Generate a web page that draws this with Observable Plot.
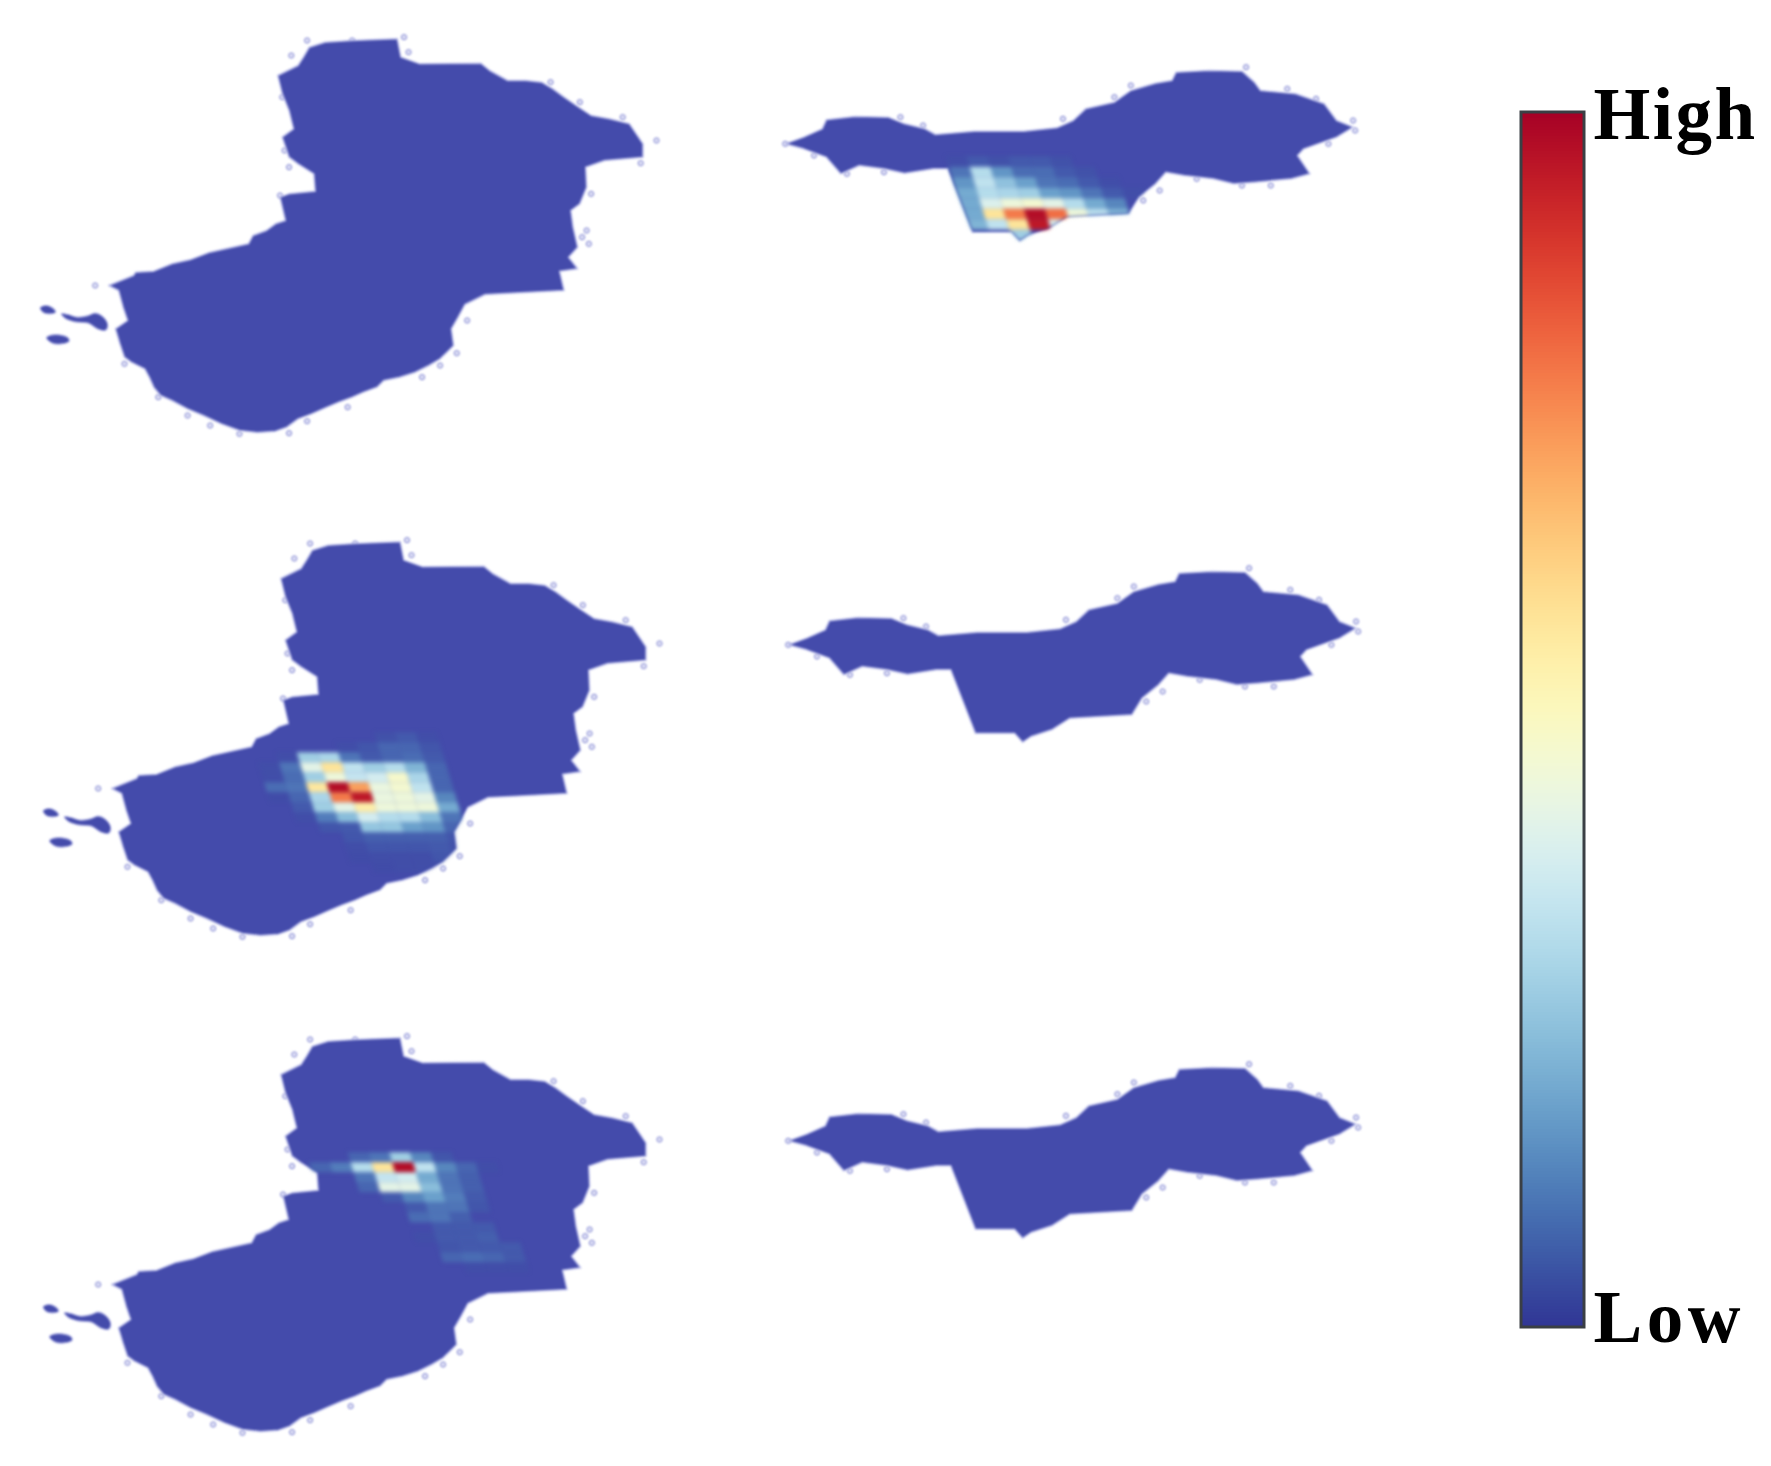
<!DOCTYPE html>
<html><head><meta charset="utf-8">
<script src="https://cdn.jsdelivr.net/npm/d3@7"></script>
<script src="https://cdn.jsdelivr.net/npm/@observablehq/plot@0.6"></script>
<style>html,body{margin:0;background:#fff}svg{display:block}</style>
</head><body><div id="chart"></div>
<script>
// Regional outlines
const regionWest = [[240,855],[295,825],[300,815],[340,812],[380,790],[420,778],[465,755],[510,742],[550,730],[560,705],[590,690],[610,670],[632,660],[620,590],[640,580],[698,572],[695,520],[660,490],[640,470],[625,410],[650,385],[640,330],[625,280],[615,225],[660,195],[672,170],[685,140],[720,125],[780,120],[880,115],[888,170],[930,190],[1065,188],[1085,210],[1125,240],[1165,240],[1200,245],[1225,265],[1250,290],[1280,318],[1310,345],[1350,355],[1395,370],[1410,400],[1425,430],[1425,470],[1340,480],[1298,500],[1300,560],[1285,610],[1265,630],[1270,680],[1280,740],[1260,770],[1280,805],[1240,812],[1250,870],[1075,882],[1030,912],[1015,950],[1000,985],[1005,1035],[990,1055],[975,1075],[950,1095],[920,1115],[885,1130],[850,1140],[835,1160],[805,1175],[780,1190],[750,1205],[720,1222],[690,1240],[660,1255],[635,1280],[610,1292],[570,1296],[530,1290],[490,1270],[450,1245],[415,1225],[380,1200],[355,1185],[340,1160],[330,1130],[320,1105],[290,1085],[275,1070],[265,1030],[255,985],[282,960],[272,920],[262,870]];
const islandsWest = [[[102,1012],[112,1004],[130,1003],[150,1012],[152,1022],[135,1030],[115,1028]],[[135,940],[150,942],[170,950],[195,945],[210,938],[228,950],[238,975],[232,990],[215,985],[195,968],[165,964],[145,955]],[[88,922],[100,915],[115,922],[122,935],[108,940],[95,936]]];
const specksWest = [[895,110],[1220,245],[1285,305],[1455,420],[1310,580],[1290,710],[1035,960],[1012,1058],[210,855],[275,1090],[415,1245],[465,1275],[640,1298],[530,1300],[680,120],[645,165],[625,290],[630,450],[640,500],[620,585],[905,155],[1380,350],[1420,488],[780,120],[1300,690],[1305,730],[350,1190],[770,1220],[680,1262],[935,1130],[975,1095]];
const regionEast = [[60,310],[105,290],[150,265],[160,238],[230,228],[310,230],[350,250],[400,265],[425,282],[520,272],[640,272],[720,262],[760,240],[790,205],[860,185],[900,150],[960,128],[1000,120],[1010,95],[1090,90],[1170,92],[1200,125],[1215,150],[1300,160],[1370,190],[1400,240],[1440,260],[1400,290],[1320,325],[1305,345],[1335,400],[1290,415],[1200,425],[1150,430],[1100,415],[1030,405],[985,395],[960,430],[920,470],[895,520],[745,530],[700,565],[650,585],[630,602],[610,575],[515,575],[455,385],[420,385],[350,398],[300,385],[240,375],[195,400],[160,350],[105,325]];
const specksEast = [[60,310],[130,345],[210,400],[300,395],[1440,240],[1445,270],[1380,310],[1280,145],[1350,175],[1170,435],[1240,435],[1060,415],[970,450],[930,480],[735,235],[860,170],[900,135],[1180,80],[340,230],[395,255]];
// Heat rows: first entry is the starting column, the rest are colour-bar positions (0 = Low, 1 = High)
const heatEastTop = [[1,.05,.08,.06,.08,.08,.06],[1,.12,.32,.16,.11,.11,.08,.06],[1,.16,.34,.25,.18,.12,.11,.08,.05],[1,.2,.32,.3,.28,.18,.16,.12,.08,.05],[1,.2,.4,.45,.47,.42,.32,.2,.14],[1,.2,.58,.78,.97,.8,.45,.33,.22],[1,.22,.34,.58,.95,.4],[3,.28]];
const heatWestMid = [[6,.06,.08,.05],[4,.05,.07,.1,.1,.07],[1,.05,.28,.3,.12,.08,.1,.11,.08],[0,.05,.12,.42,.58,.34,.28,.32,.22,.1],[0,.05,.11,.28,.45,.35,.38,.48,.3,.1],[0,.11,.12,.57,.97,.72,.44,.47,.34,.1],[0,.04,.1,.3,.78,.95,.44,.45,.42,.14],[1,.08,.28,.42,.55,.45,.45,.45,.2],[1,.05,.13,.24,.38,.32,.32,.24,.12],[2,.07,.08,.26,.26,.18,.16,.1],[3,.07,.09,.09,.09,.09,.07],[3,.05,.07,.07,.07,.08,.06],[3,.04,.05,.05,.05,.07,.05],[4,.04,.05,.05,.05]];
const heatWestLow = [[2,.1,.12,.28,.14,.07],[0,.1,.13,.32,.58,.97,.34,.14,.1,.05],[2,.12,.35,.38,.2,.12,.09],[2,.1,.42,.42,.24,.12,.09],[3,.08,.14,.18,.13,.08],[4,.08,.12,.12,.07],[4,.11,.12,.09],[5,.08,.08,.08],[4,.05,.08,.08,.09],[5,.07,.08,.08,.08],[5,.1,.11,.1,.08],[6,.05,.05,.05]];
const labels = ["High", "Low"];

const toWest = ([a, b]) => [a / 2.218, b / 3];
const toEast = ([a, b]) => [760 + a / 2.43, 40 + b / 3];
const west = regionWest.map(toWest), east = regionEast.map(toEast);
const isles = islandsWest.map(s => s.map(toWest));
const wSpecks = specksWest.map(toWest), eSpecks = specksEast.map(toEast);

const westOff = [[0,0],[3,503],[3,999]];
const eastOff = [[0,0],[3,501],[3,997]];

const shapes = [], extras = [], specks = [];
westOff.forEach(([dx,dy],p) => {
  west.forEach(([x,y]) => shapes.push({id:"w"+p,x:x+dx,y:y+dy}));
  isles.forEach((s,k) => s.forEach(([x,y]) => extras.push({id:`i${p}-${k}`,x:x+dx,y:y+dy})));
  wSpecks.forEach(([x,y]) => specks.push({x:x+dx,y:y+dy}));
});
eastOff.forEach(([dx,dy],p) => {
  east.forEach(([x,y]) => shapes.push({id:"e"+p,x:x+dx,y:y+dy}));
  eSpecks.forEach(([x,y]) => specks.push({x:x+dx,y:y+dy}));
});
const shapeIds = ["w0","w1","w2","e0","e1","e2"];

function cells(rows, x0, y0, w, h, s, tag) {
  const out = [];
  rows.forEach(([start, ...vals], r) => vals.forEach((v, i) => {
    const c = start + i, l = x0 + c * w + r * s, t = y0 + r * h, id = `${tag}-${r}-${c}`;
    [[l,t],[l+w,t],[l+w+s,t+h],[l+s,t+h]].forEach(([x,y]) => out.push({id,x,y,v}));
  }));
  return out;
}
const heats = [
  {clip:"e0", data:cells(heatEastTop, 924.2, 155.8, 20.83, 10.5, 3.17, "a")},
  {clip:"w1", data:cells(heatWestMid, 248.5, 731.7, 20.83, 10, 3, "b")},
  {clip:"w2", data:cells(heatWestLow, 305.3, 1151.7, 20.83, 10, 3, "c")}
];
const step = 1/405;
const ramp = d3.range(0, 1, step).map(v => ({v, y1: 1327 - v * 1215, y2: 1327 - (v + step) * 1215}));
const base = "#444bab";

const chart = Plot.plot({
  width: 1771, height: 1466, margin: 0,
  style: {background: "#fff"},
  x: {domain: [0,1771], range: [0,1771], axis: null},
  y: {domain: [0,1466], range: [0,1466], axis: null},
  color: {type: "linear", scheme: "RdYlBu", domain: [0,1], reverse: true},
  marks: [
    Plot.dot(specks, {x:"x", y:"y", r:2.6, fill:"#e4e5f7", stroke:"#7b80cf", strokeWidth:1}),
    Plot.line(extras, {x:"x", y:"y", z:"id", curve:"catmull-rom-closed", fill:base, stroke:"#a9ace2", strokeWidth:1.2}),
    Plot.line(shapes, {x:"x", y:"y", z:"id", curve:"linear-closed", fill:base, stroke:"#b9bce9", strokeWidth:1.5}),
    ...heats.map(h => Plot.line(h.data, {x:"x", y:"y", z:"id", curve:"linear-closed", fill:"v", stroke:"none", fillOpacity:d => Math.min(1, d.v / .15)})),
    Plot.rect(ramp, {x1:()=>1521, x2:()=>1584, y1:"y1", y2:"y2", fill:"v", shapeRendering:"crispEdges"}),
    Plot.rect([0], {x1:()=>1521, x2:()=>1584, y1:()=>112, y2:()=>1327, fill:"none", stroke:"#3a3f44", strokeWidth:3}),
    Plot.text([labels[0]], {x:()=>1593, y:()=>138, text:d=>d, textAnchor:"start", lineAnchor:"bottom", fontFamily:"Liberation Serif", fontWeight:"bold", fontSize:73, fill:"#000"}),
    Plot.text([labels[1]], {x:()=>1593, y:()=>1341, text:d=>d, textAnchor:"start", lineAnchor:"bottom", fontFamily:"Liberation Serif", fontWeight:"bold", fontSize:73, fill:"#000"})
  ]
});
document.getElementById("chart").append(chart);

const layers = Array.from(chart.children).filter(n => n.tagName.toLowerCase() === "g");
const [dotsG, islesG, regionsG, h0, h1, h2, rampG, frameG, highG, lowG] = layers;
const svg = d3.select(chart);
const defs = svg.insert("defs", ":first-child");
const regionPaths = Array.from(regionsG.querySelectorAll("path"));
heats.forEach((h,i) => {
  const p = regionPaths[shapeIds.indexOf(h.clip)];
  defs.append("clipPath").attr("id","clip"+i).append("path").attr("d", p.getAttribute("d"));
  const g = [h0,h1,h2][i];
  g.setAttribute("clip-path",`url(#clip${i})`);
  const wrap = document.createElementNS("http://www.w3.org/2000/svg","g");
  wrap.style.filter = "blur(2.3px)";
  g.parentNode.insertBefore(wrap, g);
  wrap.appendChild(g);
});
[dotsG, islesG, regionsG].forEach(g => g.style.filter = "blur(1.2px)");
[frameG, highG, lowG].forEach(g => g.style.filter = "blur(.7px)");
highG.style.letterSpacing = "2.5px";
lowG.style.letterSpacing = "4.5px";
</script></body></html>
